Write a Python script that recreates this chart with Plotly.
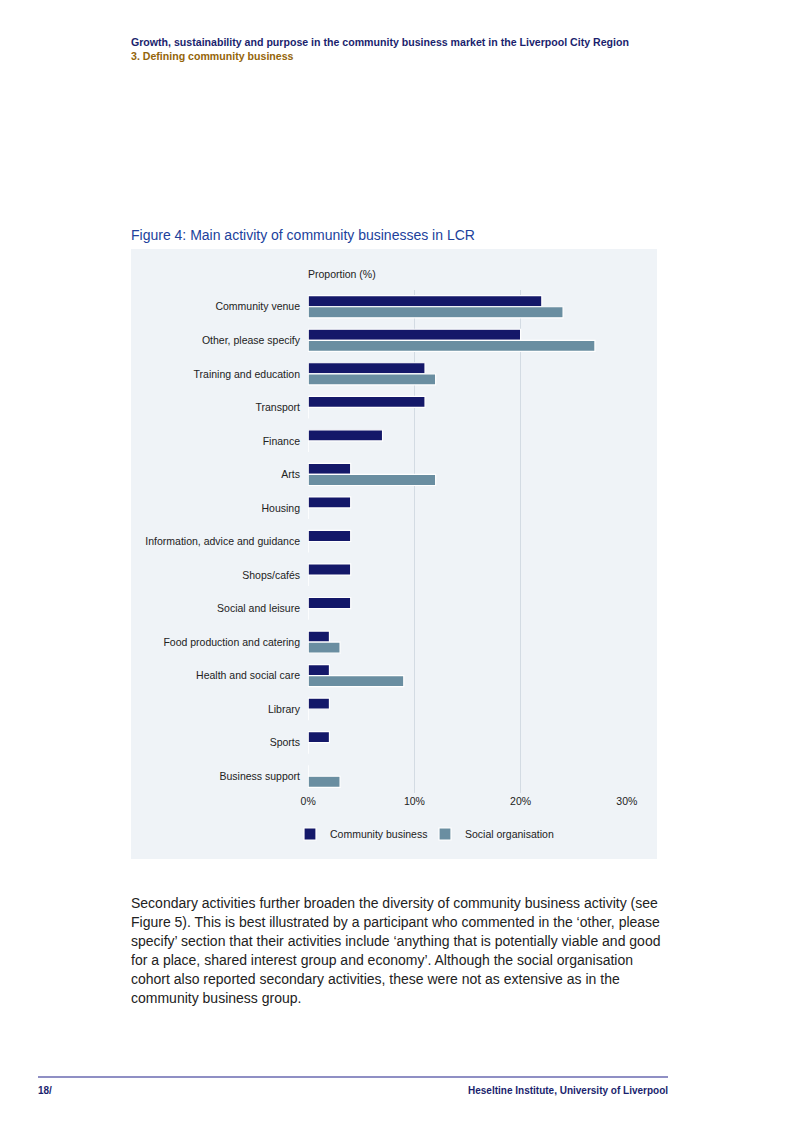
import plotly.graph_objects as go

categories = ["Community venue", "Other, please specify", "Training and education", "Transport",
              "Finance", "Arts", "Housing", "Information, advice and guidance", "Shops/cafés",
              "Social and leisure", "Food production and catering", "Health and social care",
              "Library", "Sports", "Business support"]
community_business = [22, 20, 11, 11, 7, 4, 4, 4, 4, 4, 2, 2, 2, 2, 0]
social_organisation = [24, 27, 12, 0, 0, 12, 0, 0, 0, 0, 3, 9, 0, 0, 3]
x_ticks = [0, 10, 20, 30]
x_tick_labels = ["0%", "10%", "20%", "30%"]

body_lines = [
    "Secondary activities further broaden the diversity of community business activity (see",
    "Figure 5). This is best illustrated by a participant who commented in the \u2018other, please",
    "specify\u2019 section that their activities include \u2018anything that is potentially viable and good",
    "for a place, shared interest group and economy\u2019. Although the social organisation",
    "cohort also reported secondary activities, these were not as extensive as in the",
    "community business group.",
]

# page body keeps its default 8px margin; size the figure so no scrollbars appear
OFF = 8
W, H = 800 - 2 * OFF, 1132 - 2 * OFF
FONT = "Liberation Sans, Arial, sans-serif"
PAD = 2  # annotation inner padding


def px(x):
    return (x - OFF) / W


def py(y):
    return 1 - (y - OFF) / H


fig = go.Figure()
fig.add_trace(go.Bar(
    y=categories, x=community_business, orientation="h", name="Community business",
    marker=dict(color="#141869", line=dict(color="white", width=1.2)),
))
fig.add_trace(go.Bar(
    y=categories, x=social_organisation, orientation="h", name="Social organisation",
    marker=dict(color="#6a8ea1", line=dict(color="white", width=1.2)),
))

annotations = [
    dict(text="<b>Growth, sustainability and purpose in the community business market in the Liverpool City Region</b>",
         x=px(131 - PAD), y=py(42), xanchor="left", yanchor="middle",
         font=dict(size=10.6, color="#1b1f6e", family=FONT)),
    dict(text="<b>3. Defining community business</b>",
         x=px(131 - PAD), y=py(56), xanchor="left", yanchor="middle",
         font=dict(size=10.6, color="#94650a", family=FONT)),
    dict(text="Figure 4: Main activity of community businesses in LCR",
         x=px(131 - PAD), y=py(235), xanchor="left", yanchor="middle",
         font=dict(size=14, color="#213f9c", family=FONT)),
    dict(text="Proportion (%)",
         x=px(308 - PAD), y=py(274), xanchor="left", yanchor="middle",
         font=dict(size=10.5, color="#222222", family=FONT)),
    dict(text="<b>18/</b>",
         x=px(38 - PAD), y=py(1090), xanchor="left", yanchor="middle",
         font=dict(size=10, color="#1b1f6e", family=FONT)),
    dict(text="<b>Heseltine Institute, University of Liverpool</b>",
         x=px(668 + PAD), y=py(1090), xanchor="right", yanchor="middle",
         font=dict(size=10, color="#1b1f6e", family=FONT)),
]
for i, line in enumerate(body_lines):
    annotations.append(dict(text=line, x=px(131 - PAD), y=py(903 + 19 * i), xanchor="left", yanchor="middle",
                            font=dict(size=14, color="#222222", family=FONT)))
for a in annotations:
    a.update(xref="paper", yref="paper", showarrow=False)

shapes = [
    dict(type="rect", xref="paper", yref="paper", x0=px(131), x1=px(657), y0=py(859), y1=py(249),
         fillcolor="#eff3f7", line=dict(width=0), layer="below"),
    dict(type="line", xref="paper", yref="paper", x0=px(38), x1=px(668), y0=py(1077), y1=py(1077),
         line=dict(color="#6a6ab0", width=1.5)),
]

fig.update_layout(
    width=W, height=H,
    margin=dict(l=0, r=0, t=0, b=0, autoexpand=False),
    paper_bgcolor="white", plot_bgcolor="rgba(0,0,0,0)",
    barmode="group", bargap=0.34, bargroupgap=0,
    font=dict(family=FONT, size=10.5, color="#222222"),
    xaxis=dict(domain=[px(308), px(627)], range=[-0.02, 30.02], tickvals=x_ticks, ticktext=x_tick_labels,
               showgrid=True, gridcolor="#d3dbe3", gridwidth=1, zeroline=False, automargin=False,
               showline=False, ticks="", tickfont=dict(size=10.5, color="#222222")),
    yaxis=dict(domain=[py(793), py(290)], autorange="reversed", showgrid=False, automargin=False,
               ticks="", showline=False, ticklabelstandoff=7,
               tickfont=dict(size=10.5, color="#222222")),
    legend=dict(orientation="h", x=px(290), y=py(834), xanchor="left", yanchor="middle",
                bgcolor="rgba(0,0,0,0)", font=dict(size=10.5, color="#222222"), traceorder="normal",
                entrywidth=90, entrywidthmode="pixels"),
    annotations=annotations, shapes=shapes,
)

fig.write_html("out.html")
